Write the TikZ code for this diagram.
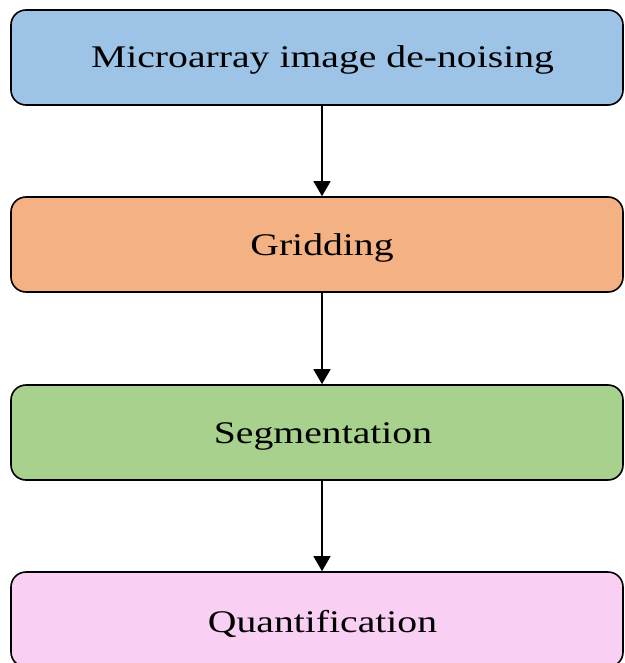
\documentclass[tikz,border=0pt]{standalone}
\usepackage{fontspec}
\setmainfont{Liberation Serif}
\usetikzlibrary{arrows.meta}
\definecolor{stepblue}{HTML}{9DC3E6}
\definecolor{steporange}{HTML}{F4B183}
\definecolor{stepgreen}{HTML}{A9D18E}
\definecolor{steppink}{HTML}{F9D0F3}
\tikzset{
  stepbox/.style={draw=black, line width=1.6pt, rounded corners=15pt,
    minimum width=612pt, minimum height=95pt, inner sep=0pt},
  steplabel/.style={inner sep=0pt, text height=21pt, text depth=0pt,
    font=\fontsize{31.5pt}{36pt}\selectfont},
  flow/.style={line width=1.3pt, -{Triangle[width=17pt,length=15pt]}}
}
\newcommand{\wide}[1]{\scalebox{1.26}[1]{#1}}
\begin{document}
\begin{tikzpicture}[x=1pt,y=-1pt]
  \useasboundingbox (0,0) rectangle (624,663);
  % the four process steps
  \node[stepbox, fill=stepblue]   (b1) at (317,57.5)  {};
  \node[stepbox, fill=steporange] (b2) at (317,244.5) {};
  \node[stepbox, fill=stepgreen]  (b3) at (317,432.5) {};
  \node[stepbox, fill=steppink]   (b4) at (317,619.5) {};
  \node[steplabel] (t1) at (322.5,57.5) {\wide{Microarray image de-noising}};
  \node[steplabel] (t2) at (322,245)    {\wide{Gridding}};
  \node[steplabel] (t3) at (323,433)    {\wide{Segmentation}};
  \node[steplabel] (t4) at (322.5,621.5){\wide{Quantification}};
  % vertical axis along which the arrows run
  \coordinate (axis) at (322,0);
  \draw[flow] (b1.south -| axis) -- (b2.north -| axis);
  \draw[flow] (b2.south -| axis) -- (b3.north -| axis);
  \draw[flow] (b3.south -| axis) -- (b4.north -| axis);
\end{tikzpicture}
\end{document}
